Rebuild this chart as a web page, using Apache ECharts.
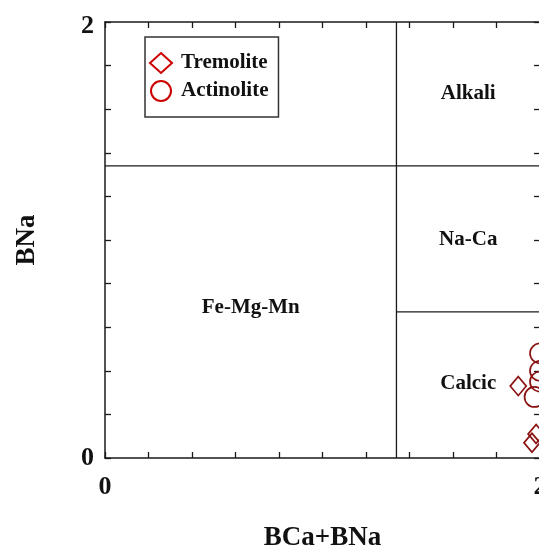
<!DOCTYPE html>
<html>
<head>
<meta charset="utf-8">
<script src="https://cdn.jsdelivr.net/npm/echarts@6/dist/echarts.min.js"></script>
<style>
  html, body { margin: 0; padding: 0; background: #fff; }
  #chart { width: 539px; height: 550px; }
</style>
</head>
<body>
<div id="chart"></div>
<script>
// Amphibole classification: BCa+BNa vs BNa
const tremolite = [[1.90, 0.33], [1.963, 0.07], [1.982, 0.11]];
const actinolite = [[2.0, 0.48], [2.0, 0.40], [2.0, 0.35], [1.975, 0.28]];

// Field boundaries (x, y pairs)
const boundaryVertical = [[1.34, 0], [1.34, 2]];
const boundaryUpper = [[0, 1.34], [2, 1.34]];
const boundaryLower = [[1.34, 0.67], [2, 0.67]];

// Field names and their anchor points
const fieldNames = ['Alkali', 'Na-Ca', 'Calcic', 'Fe-Mg-Mn'];
const fieldAnchors = [[1.67, 1.67], [1.67, 1.0], [1.67, 0.34], [0.67, 0.69]];

const tickLabels = [0, 2];

const FONT = '"Liberation Serif", "Times New Roman", serif';
const INK = '#1a1a1a';
const MARK = '#8b1212';
const LEGEND_RED = '#cc0000';

function tickText(v) {
  for (const t of tickLabels) {
    if (Math.abs(v - t) < 1e-6) return String(t);
  }
  return '';
}

// the top label on the y axis sits a little below the axis end
function yTickText(v) {
  const s = tickText(v);
  return s === '2' ? '{low|2}' : s;
}

const axisCommon = {
  min: 0, max: 2, interval: 0.2,
  axisLine: { show: true, onZero: false, lineStyle: { color: INK, width: 1.5 } },
  axisTick: { show: true, inside: true, length: 6, lineStyle: { color: INK, width: 1.3 } },
  splitLine: { show: false }
};

const tickFont = { fontFamily: FONT, fontWeight: 'bold', fontSize: 26, color: '#111' };
const titleFont = { fontFamily: FONT, fontWeight: 'bold', fontSize: 27, color: '#111' };

const chart = echarts.init(document.getElementById('chart'), null, { renderer: 'canvas' });

chart.setOption({
  backgroundColor: '#fff',
  animation: false,
  grid: { left: 105, top: 22, width: 435, height: 436, containLabel: false, outerBoundsMode: 'none' },
  legend: {
    left: 145, top: 37,
    orient: 'vertical',
    padding: [15, 10, 15, 4],
    itemGap: 6,
    itemWidth: 22, itemHeight: 20,
    borderColor: '#333', borderWidth: 1.5,
    textStyle: { fontFamily: FONT, fontWeight: 'bold', fontSize: 21, color: '#111', padding: [0, 0, 0, 4] },
    data: [
      { name: 'Tremolite', icon: 'diamond', itemStyle: { color: 'rgba(0,0,0,0)', borderColor: LEGEND_RED, borderWidth: 2, opacity: 1 } },
      { name: 'Actinolite', icon: 'circle', itemStyle: { color: 'rgba(0,0,0,0)', borderColor: LEGEND_RED, borderWidth: 2, opacity: 1 } }
    ]
  },
  xAxis: [
    Object.assign({}, axisCommon, {
      type: 'value', position: 'bottom',
      name: 'BCa+BNa', nameLocation: 'middle', nameGap: 67,
      nameTextStyle: titleFont,
      axisLabel: Object.assign({ show: true, margin: 16, formatter: tickText }, tickFont)
    }),
    Object.assign({}, axisCommon, {
      type: 'value', position: 'top', axisLabel: { show: false }
    })
  ],
  yAxis: [
    Object.assign({}, axisCommon, {
      type: 'value', position: 'left',
      name: 'BNa', nameLocation: 'middle', nameGap: 64,
      nameTextStyle: titleFont,
      axisLabel: Object.assign({ show: true, margin: 11, formatter: yTickText,
        rich: { low: Object.assign({ padding: [9, 0, 0, 0] }, tickFont) } }, tickFont)
    }),
    Object.assign({}, axisCommon, {
      type: 'value', position: 'right', axisLabel: { show: false }
    })
  ],
  series: [
    { type: 'line', data: boundaryVertical, symbol: 'none', silent: true,
      lineStyle: { color: INK, width: 1.3 } },
    { type: 'line', data: boundaryUpper, symbol: 'none', silent: true,
      lineStyle: { color: INK, width: 1.3 } },
    { type: 'line', data: boundaryLower, symbol: 'none', silent: true,
      lineStyle: { color: INK, width: 1.3 } },
    {
      type: 'scatter', silent: true, symbolSize: 0,
      itemStyle: { opacity: 1 },
      data: fieldAnchors.map((p, i) => ({ value: p, name: fieldNames[i] })),
      label: { show: true, position: 'inside', formatter: p => p.name,
        fontFamily: FONT, fontWeight: 'bold', fontSize: 21, color: '#111' }
    },
    {
      name: 'Tremolite', type: 'scatter', symbol: 'diamond', symbolSize: [16, 19],
      clip: false, data: tremolite,
      itemStyle: { color: 'rgba(0,0,0,0)', borderColor: MARK, borderWidth: 1.7, opacity: 1 }
    },
    {
      name: 'Actinolite', type: 'scatter', symbol: 'circle', symbolSize: 20,
      clip: false, data: actinolite,
      itemStyle: { color: 'rgba(0,0,0,0)', borderColor: MARK, borderWidth: 1.7, opacity: 1 }
    }
  ]
});
</script>
</body>
</html>
